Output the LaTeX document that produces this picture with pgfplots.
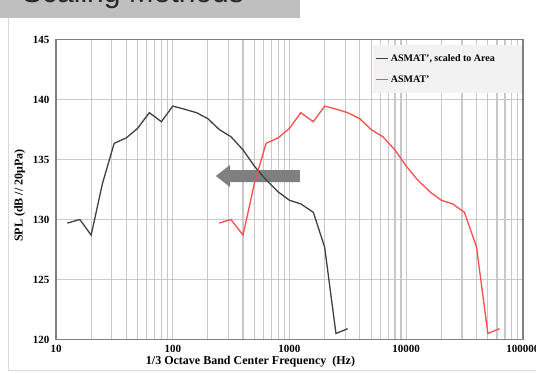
\documentclass[border=0pt]{standalone}
\usepackage{pgfplots}
\pgfplotsset{compat=1.18}
\usepackage{fontspec}
\setmainfont{Liberation Serif}
\newfontfamily\bannerfont{Liberation Sans}
\definecolor{gridc}{HTML}{C8C8C8}
\definecolor{framec}{HTML}{808080}
\definecolor{curveblack}{HTML}{404040}
\definecolor{curvered}{HTML}{FF4D4D}
\definecolor{arrowc}{HTML}{7F7F7F}
\definecolor{bannerc}{HTML}{BFBFBF}
\definecolor{legfill}{HTML}{F2F2F2}

\pgfplotstableread{
f    spl
12.5 129.7
16   130.0
20   128.7
25   133.0
31.5 136.35
40   136.8
50   137.6
63   138.9
80   138.15
100  139.45
125  139.2
160  138.9
200  138.4
250  137.5
315  136.9
400  135.8
500  134.45
630  133.3
800  132.3
1000 131.6
1250 131.3
1600 130.6
2000 127.7
2500 120.5
3150 120.9
}\scaled

\pgfplotstableread{
f     spl
250   129.7
315   130.0
400   128.7
500   133.0
630   136.35
800   136.8
1000  137.6
1250  138.9
1600  138.15
2000  139.45
2500  139.2
3150  138.9
4000  138.4
5000  137.5
6300  136.9
8000  135.8
10000 134.45
12500 133.3
16000 132.3
20000 131.6
25000 131.3
31500 130.6
40000 127.7
50000 120.5
63000 120.9
}\full

\begin{document}
\begin{tikzpicture}[x=1pt,y=1pt]
\useasboundingbox (0,0) rectangle (536,373);
% slide banner
\begin{scope}
\clip (0,355) rectangle (300,373);
\fill[bannerc] (0,355) rectangle (300,373);
\node[anchor=base west, inner sep=0pt, font=\bannerfont\fontsize{30}{30}\selectfont, text=black!85] at (22,370) {Scaling Methods};
\end{scope}
\draw[black!15, line width=1pt] (8,355) -- (8,3) -- (536,3);
\begin{axis}[
  at={(56pt,33.5pt)}, anchor=south west,
  scale only axis, width=467pt, height=300pt,
  xmode=log, xmin=10, xmax=100000,
  ymin=120, ymax=145, ytick={120,125,130,135,140,145},
  xtick={10,100,1000,10000,100000},
  xticklabels={10,100,1000,10000,100000},
  minor xtick={20,30,40,50,60,70,80,90,200,300,400,500,600,700,800,900,2000,3000,4000,5000,6000,7000,8000,9000,20000,30000,40000,50000,60000,70000,80000,90000},
  grid=both,
  major grid style={gridc, line width=1.2pt},
  minor grid style={gridc, line width=1.2pt},
  axis line style={framec, line width=1.3pt},
  major tick length=0pt, minor tick length=0pt,
  tick label style={font=\bfseries\fontsize{11}{11}\selectfont},
  /pgf/number format/assume math mode=true,
  yticklabel style={xshift=-3pt},
  xticklabel style={yshift=-2pt},
  xlabel={1/3 Octave Band Center Frequency \ (Hz)},
  ylabel={SPL (dB // 20μPa)},
  label style={font=\bfseries\fontsize{12}{12}\selectfont},
  xlabel style={yshift=3pt, xshift=-39pt},
  ylabel style={yshift=1pt, xshift=-6pt},
  legend style={at={(0.998,0.982)}, anchor=north east, fill=legfill, draw=none,
    font=\bfseries\fontsize{10}{11}\selectfont, inner xsep=3pt, inner ysep=7pt, row sep=9pt},
  legend cell align=left,
  legend image code/.code={\draw[#1] (0pt,0pt) -- (12pt,0pt);},
]
\fill[arrowc] (axis cs:1230,134.125) -- (axis cs:309,134.125) -- (axis cs:309,134.54)
  -- (axis cs:234,133.625) -- (axis cs:309,132.71) -- (axis cs:309,133.125)
  -- (axis cs:1230,133.125) -- cycle;
\addplot[curveblack, line width=1.3pt] table[x=f,y=spl] {\scaled};
\addlegendentry{ASMAT', scaled to Area\hspace*{22pt}}
\addplot[curvered, line width=1.3pt] table[x=f,y=spl] {\full};
\addlegendentry{ASMAT'}
\end{axis}
\end{tikzpicture}
\end{document}
